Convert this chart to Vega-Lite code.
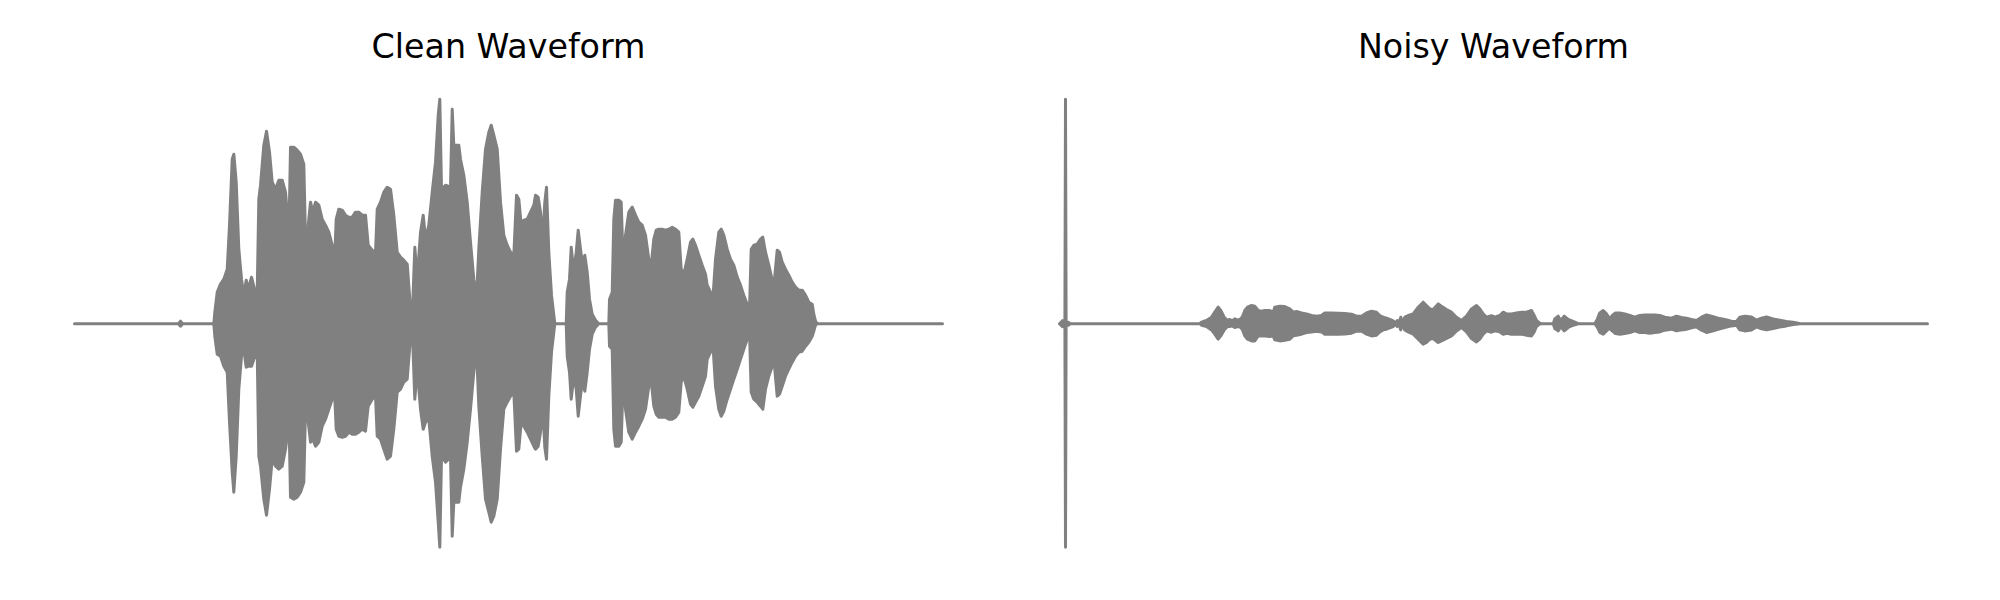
{
  "$schema": "https://vega.github.io/schema/vega-lite/v6.json",
  "padding": {"left": 72.5, "top": 30.7, "right": 0, "bottom": 0},
  "background": "white",
  "config": {
    "view": {"stroke": null},
    "title": {"fontSize": 33.3, "font": "DejaVu Sans", "fontWeight": "normal", "color": "#000000", "anchor": "middle", "baseline": "alphabetic", "offset": 18}
  },
  "datasets": {
    "clean": [
      {"t": 0, "hi": 0, "lo": 0},
      {"t": 104, "hi": 0, "lo": 0},
      {"t": 106, "hi": 2.5, "lo": -2.5},
      {"t": 108, "hi": 0, "lo": 0},
      {"t": 139.3, "hi": 0, "lo": 0},
      {"t": 140.3, "hi": 11.5, "lo": -12.5},
      {"t": 142.7, "hi": 31.5, "lo": -30.5},
      {"t": 146, "hi": 39.5, "lo": -32.5},
      {"t": 149.3, "hi": 44.5, "lo": -42.5},
      {"t": 152.7, "hi": 54.5, "lo": -48.5},
      {"t": 155, "hi": 98.5, "lo": -98.5},
      {"t": 157.7, "hi": 164.5, "lo": -148.5},
      {"t": 159.3, "hi": 169.5, "lo": -168.5},
      {"t": 161.7, "hi": 141.5, "lo": -132.5},
      {"t": 164.3, "hi": 74.5, "lo": -65.5},
      {"t": 167, "hi": 44.5, "lo": -32.5},
      {"t": 169.3, "hi": 28.5, "lo": -25.5},
      {"t": 171.7, "hi": 43.5, "lo": -43.5},
      {"t": 173.7, "hi": 34.5, "lo": -42.5},
      {"t": 177, "hi": 46.5, "lo": -42.5},
      {"t": 180.3, "hi": 33.5, "lo": -32.5},
      {"t": 182.7, "hi": 31.5, "lo": -28.5},
      {"t": 184.3, "hi": 124.5, "lo": -132.5},
      {"t": 186, "hi": 138.5, "lo": -142.5},
      {"t": 189.3, "hi": 178.5, "lo": -175.5},
      {"t": 192, "hi": 192.5, "lo": -191.5},
      {"t": 195, "hi": 171.5, "lo": -165.5},
      {"t": 197.7, "hi": 141.5, "lo": -135.5},
      {"t": 201, "hi": 134.5, "lo": -142.5},
      {"t": 204.3, "hi": 143.5, "lo": -145.5},
      {"t": 207.7, "hi": 143.5, "lo": -142.5},
      {"t": 211, "hi": 131.5, "lo": -125.5},
      {"t": 212.7, "hi": 111.5, "lo": -112.5},
      {"t": 214.3, "hi": 84.5, "lo": -85.5},
      {"t": 216, "hi": 176.5, "lo": -173.5},
      {"t": 219.3, "hi": 176.5, "lo": -175.5},
      {"t": 222.7, "hi": 173.5, "lo": -173.5},
      {"t": 226, "hi": 169.5, "lo": -168.5},
      {"t": 229.3, "hi": 159.5, "lo": -158.5},
      {"t": 231, "hi": 84.5, "lo": -85.5},
      {"t": 233.7, "hi": 98.5, "lo": -98.5},
      {"t": 236, "hi": 121.5, "lo": -118.5},
      {"t": 238.3, "hi": 111.5, "lo": -115.5},
      {"t": 241, "hi": 121.5, "lo": -122.5},
      {"t": 244.3, "hi": 118.5, "lo": -118.5},
      {"t": 247.7, "hi": 104.5, "lo": -102.5},
      {"t": 251, "hi": 98.5, "lo": -95.5},
      {"t": 254.3, "hi": 91.5, "lo": -85.5},
      {"t": 257.7, "hi": 78.5, "lo": -75.5},
      {"t": 259.3, "hi": 44.5, "lo": -52.5},
      {"t": 261.7, "hi": 104.5, "lo": -105.5},
      {"t": 264.3, "hi": 114.5, "lo": -112.5},
      {"t": 267.7, "hi": 113.5, "lo": -113.5},
      {"t": 271, "hi": 108.5, "lo": -112.5},
      {"t": 274.3, "hi": 106.5, "lo": -108.5},
      {"t": 277.7, "hi": 106.5, "lo": -110.5},
      {"t": 281, "hi": 111.5, "lo": -110.5},
      {"t": 284.3, "hi": 111.5, "lo": -108.5},
      {"t": 287.7, "hi": 108.5, "lo": -105.5},
      {"t": 291, "hi": 108.5, "lo": -107.5},
      {"t": 293.7, "hi": 78.5, "lo": -82.5},
      {"t": 297.7, "hi": 73.5, "lo": -75.5},
      {"t": 301, "hi": 71.5, "lo": -72.5},
      {"t": 302.7, "hi": 114.5, "lo": -112.5},
      {"t": 306, "hi": 121.5, "lo": -115.5},
      {"t": 309.3, "hi": 131.5, "lo": -125.5},
      {"t": 312.7, "hi": 136.5, "lo": -135.5},
      {"t": 316, "hi": 134.5, "lo": -132.5},
      {"t": 319.3, "hi": 108.5, "lo": -105.5},
      {"t": 322.7, "hi": 71.5, "lo": -68.5},
      {"t": 326, "hi": 66.5, "lo": -65.5},
      {"t": 329.3, "hi": 63.5, "lo": -58.5},
      {"t": 332.7, "hi": 59.5, "lo": -55.5},
      {"t": 335.3, "hi": 24.5, "lo": -22.5},
      {"t": 337.7, "hi": 4.5, "lo": -3.5},
      {"t": 340.3, "hi": 76.5, "lo": -75.5},
      {"t": 342.7, "hi": 44.5, "lo": -45.5},
      {"t": 346, "hi": 91.5, "lo": -85.5},
      {"t": 348.7, "hi": 108.5, "lo": -105.5},
      {"t": 351, "hi": 84.5, "lo": -98.5},
      {"t": 354.3, "hi": 98.5, "lo": -95.5},
      {"t": 357.7, "hi": 131.5, "lo": -132.5},
      {"t": 361, "hi": 161.5, "lo": -158.5},
      {"t": 363.7, "hi": 208.5, "lo": -198.5},
      {"t": 365.3, "hi": 224.5, "lo": -223.5},
      {"t": 367, "hi": 134.5, "lo": -132.5},
      {"t": 371, "hi": 138.5, "lo": -138.5},
      {"t": 376, "hi": 136.5, "lo": -133.5},
      {"t": 377.7, "hi": 214.5, "lo": -212.5},
      {"t": 379.3, "hi": 178.5, "lo": -178.5},
      {"t": 384.3, "hi": 178.5, "lo": -178.5},
      {"t": 386, "hi": 164.5, "lo": -163.5},
      {"t": 389.3, "hi": 148.5, "lo": -145.5},
      {"t": 392.7, "hi": 121.5, "lo": -118.5},
      {"t": 396, "hi": 81.5, "lo": -85.5},
      {"t": 399.3, "hi": 44.5, "lo": -48.5},
      {"t": 402, "hi": 26.5, "lo": -25.5},
      {"t": 404.3, "hi": 74.5, "lo": -82.5},
      {"t": 407.7, "hi": 131.5, "lo": -132.5},
      {"t": 411, "hi": 174.5, "lo": -175.5},
      {"t": 414.3, "hi": 191.5, "lo": -188.5},
      {"t": 416.7, "hi": 198.5, "lo": -198.5},
      {"t": 419.3, "hi": 188.5, "lo": -192.5},
      {"t": 422.7, "hi": 174.5, "lo": -175.5},
      {"t": 426, "hi": 121.5, "lo": -125.5},
      {"t": 429.3, "hi": 88.5, "lo": -85.5},
      {"t": 432.7, "hi": 78.5, "lo": -78.5},
      {"t": 436, "hi": 71.5, "lo": -72.5},
      {"t": 439.3, "hi": 68.5, "lo": -68.5},
      {"t": 442, "hi": 128.5, "lo": -127.5},
      {"t": 444.3, "hi": 124.5, "lo": -125.5},
      {"t": 446.7, "hi": 98.5, "lo": -98.5},
      {"t": 449.3, "hi": 103.5, "lo": -102.5},
      {"t": 452.7, "hi": 104.5, "lo": -108.5},
      {"t": 456, "hi": 111.5, "lo": -115.5},
      {"t": 459.3, "hi": 118.5, "lo": -122.5},
      {"t": 461, "hi": 128.5, "lo": -125.5},
      {"t": 463.7, "hi": 126.5, "lo": -122.5},
      {"t": 466, "hi": 111.5, "lo": -108.5},
      {"t": 468.3, "hi": 84.5, "lo": -85.5},
      {"t": 470.3, "hi": 121.5, "lo": -123.5},
      {"t": 472, "hi": 136.5, "lo": -135.5},
      {"t": 474.3, "hi": 71.5, "lo": -72.5},
      {"t": 477, "hi": 28.5, "lo": -28.5},
      {"t": 480.3, "hi": 0, "lo": 0},
      {"t": 491.7, "hi": 0, "lo": 0},
      {"t": 492.7, "hi": 31.5, "lo": -32.5},
      {"t": 495, "hi": 44.5, "lo": -48.5},
      {"t": 496.7, "hi": 76.5, "lo": -75.5},
      {"t": 499.3, "hi": 51.5, "lo": -52.5},
      {"t": 501.7, "hi": 71.5, "lo": -65.5},
      {"t": 503.7, "hi": 93.5, "lo": -92.5},
      {"t": 506, "hi": 74.5, "lo": -72.5},
      {"t": 507.7, "hi": 61.5, "lo": -58.5},
      {"t": 510.3, "hi": 68.5, "lo": -67.5},
      {"t": 512.7, "hi": 51.5, "lo": -48.5},
      {"t": 515, "hi": 24.5, "lo": -25.5},
      {"t": 517.7, "hi": 9.5, "lo": -10.5},
      {"t": 521, "hi": 3.5, "lo": -3.5},
      {"t": 524.3, "hi": 0, "lo": 0},
      {"t": 534.3, "hi": 0, "lo": 0},
      {"t": 535, "hi": 24.5, "lo": -22.5},
      {"t": 537.7, "hi": 31.5, "lo": -25.5},
      {"t": 539.3, "hi": 104.5, "lo": -105.5},
      {"t": 541, "hi": 123.5, "lo": -122.5},
      {"t": 544.3, "hi": 123.5, "lo": -122.5},
      {"t": 546.7, "hi": 121.5, "lo": -118.5},
      {"t": 548.7, "hi": 58.5, "lo": -52.5},
      {"t": 551, "hi": 88.5, "lo": -85.5},
      {"t": 554.3, "hi": 111.5, "lo": -108.5},
      {"t": 557.7, "hi": 116.5, "lo": -115.5},
      {"t": 561, "hi": 108.5, "lo": -108.5},
      {"t": 564.3, "hi": 101.5, "lo": -102.5},
      {"t": 567.7, "hi": 98.5, "lo": -95.5},
      {"t": 571, "hi": 88.5, "lo": -85.5},
      {"t": 574.3, "hi": 64.5, "lo": -62.5},
      {"t": 577, "hi": 61.5, "lo": -60.5},
      {"t": 579.3, "hi": 84.5, "lo": -82.5},
      {"t": 581.7, "hi": 93.5, "lo": -90.5},
      {"t": 584.3, "hi": 94.5, "lo": -93.5},
      {"t": 587.7, "hi": 94.5, "lo": -93.5},
      {"t": 591, "hi": 93.5, "lo": -93.5},
      {"t": 594.3, "hi": 94.5, "lo": -95.5},
      {"t": 597.7, "hi": 96.5, "lo": -95.5},
      {"t": 601, "hi": 94.5, "lo": -93.5},
      {"t": 604.3, "hi": 91.5, "lo": -88.5},
      {"t": 606.7, "hi": 54.5, "lo": -58.5},
      {"t": 609.3, "hi": 49.5, "lo": -52.5},
      {"t": 612.7, "hi": 64.5, "lo": -65.5},
      {"t": 616, "hi": 81.5, "lo": -80.5},
      {"t": 618.3, "hi": 84.5, "lo": -83.5},
      {"t": 621, "hi": 78.5, "lo": -78.5},
      {"t": 624.3, "hi": 68.5, "lo": -72.5},
      {"t": 627.7, "hi": 58.5, "lo": -62.5},
      {"t": 631, "hi": 49.5, "lo": -52.5},
      {"t": 632.7, "hi": 38.5, "lo": -35.5},
      {"t": 636, "hi": 31.5, "lo": -28.5},
      {"t": 638.7, "hi": 29.5, "lo": -25.5},
      {"t": 641, "hi": 64.5, "lo": -62.5},
      {"t": 644.3, "hi": 91.5, "lo": -85.5},
      {"t": 646.7, "hi": 94.5, "lo": -92.5},
      {"t": 649.3, "hi": 88.5, "lo": -87.5},
      {"t": 652.7, "hi": 74.5, "lo": -75.5},
      {"t": 656, "hi": 64.5, "lo": -65.5},
      {"t": 659.3, "hi": 58.5, "lo": -55.5},
      {"t": 662.7, "hi": 46.5, "lo": -45.5},
      {"t": 666, "hi": 38.5, "lo": -35.5},
      {"t": 669.3, "hi": 28.5, "lo": -25.5},
      {"t": 672.7, "hi": 19.5, "lo": -15.5},
      {"t": 675, "hi": 14.5, "lo": -8.5},
      {"t": 676.7, "hi": 74.5, "lo": -68.5},
      {"t": 679.3, "hi": 78.5, "lo": -75.5},
      {"t": 682.7, "hi": 79.5, "lo": -78.5},
      {"t": 686, "hi": 84.5, "lo": -82.5},
      {"t": 688.3, "hi": 86.5, "lo": -85.5},
      {"t": 691, "hi": 71.5, "lo": -65.5},
      {"t": 694.3, "hi": 58.5, "lo": -52.5},
      {"t": 697.7, "hi": 43.5, "lo": -42.5},
      {"t": 700, "hi": 44.5, "lo": -42.5},
      {"t": 702.7, "hi": 73.5, "lo": -72.5},
      {"t": 705, "hi": 71.5, "lo": -70.5},
      {"t": 707.7, "hi": 61.5, "lo": -62.5},
      {"t": 711, "hi": 54.5, "lo": -52.5},
      {"t": 714.3, "hi": 48.5, "lo": -45.5},
      {"t": 717.7, "hi": 41.5, "lo": -38.5},
      {"t": 721, "hi": 36.5, "lo": -32.5},
      {"t": 724.3, "hi": 33.5, "lo": -28.5},
      {"t": 727.7, "hi": 33.5, "lo": -27.5},
      {"t": 731, "hi": 28.5, "lo": -22.5},
      {"t": 734.3, "hi": 21.5, "lo": -18.5},
      {"t": 737.7, "hi": 19.5, "lo": -12.5},
      {"t": 739.3, "hi": 9.5, "lo": -7.5},
      {"t": 741, "hi": 2.5, "lo": -1.5},
      {"t": 742.7, "hi": 0, "lo": 0},
      {"t": 868, "hi": 0, "lo": 0}
    ],
    "noisy": [
      {"t": 0, "hi": 0, "lo": 0},
      {"t": 3, "hi": 3, "lo": -3},
      {"t": 5.4, "hi": 1, "lo": -1},
      {"t": 6, "hi": 224.5, "lo": -223.5},
      {"t": 6.6, "hi": 1, "lo": -1},
      {"t": 9, "hi": 1.5, "lo": -1.5},
      {"t": 10.5, "hi": 0, "lo": 0},
      {"t": 140.3, "hi": 0, "lo": 0},
      {"t": 142, "hi": 1.5, "lo": -1.5},
      {"t": 147, "hi": 3.2, "lo": -2.8},
      {"t": 152, "hi": 6.5, "lo": -6.2},
      {"t": 155.3, "hi": 11.5, "lo": -10.5},
      {"t": 158.7, "hi": 16.5, "lo": -15.5},
      {"t": 161.3, "hi": 13.2, "lo": -12.2},
      {"t": 164.7, "hi": 6.5, "lo": -6.2},
      {"t": 168, "hi": 3.2, "lo": -2.8},
      {"t": 170.3, "hi": 4.2, "lo": -2.8},
      {"t": 172.7, "hi": 2.8, "lo": -2.2},
      {"t": 175.3, "hi": 4.8, "lo": -3.8},
      {"t": 177.7, "hi": 3.5, "lo": -2.8},
      {"t": 180.3, "hi": 4.2, "lo": -3.2},
      {"t": 182.7, "hi": 6.5, "lo": -5.5},
      {"t": 185.3, "hi": 13.2, "lo": -12.2},
      {"t": 188, "hi": 16.5, "lo": -15.5},
      {"t": 192, "hi": 18.2, "lo": -17.2},
      {"t": 195.3, "hi": 17.5, "lo": -17.2},
      {"t": 198.7, "hi": 13.2, "lo": -12.2},
      {"t": 202, "hi": 12.5, "lo": -12.2},
      {"t": 205.3, "hi": 13.2, "lo": -12.2},
      {"t": 210.3, "hi": 13.2, "lo": -12.8},
      {"t": 213.7, "hi": 11.5, "lo": -12.2},
      {"t": 215.3, "hi": 16.5, "lo": -16.2},
      {"t": 220.3, "hi": 17.5, "lo": -17.2},
      {"t": 225.3, "hi": 17.2, "lo": -16.5},
      {"t": 230.3, "hi": 14.8, "lo": -15.5},
      {"t": 233.7, "hi": 11.5, "lo": -12.2},
      {"t": 237, "hi": 12.2, "lo": -11.5},
      {"t": 242, "hi": 10.8, "lo": -10.5},
      {"t": 247, "hi": 9.8, "lo": -8.8},
      {"t": 252, "hi": 8.2, "lo": -8.2},
      {"t": 257, "hi": 7.5, "lo": -7.5},
      {"t": 262, "hi": 8.2, "lo": -8.2},
      {"t": 265.3, "hi": 10.8, "lo": -10.5},
      {"t": 272, "hi": 10.8, "lo": -10.5},
      {"t": 278.7, "hi": 10.5, "lo": -10.5},
      {"t": 285.3, "hi": 10.2, "lo": -10.2},
      {"t": 292, "hi": 9.5, "lo": -9.5},
      {"t": 297, "hi": 7.5, "lo": -7.5},
      {"t": 302, "hi": 7.5, "lo": -7.2},
      {"t": 307, "hi": 10.8, "lo": -10.5},
      {"t": 312, "hi": 12.5, "lo": -12.2},
      {"t": 317, "hi": 11.5, "lo": -11.5},
      {"t": 320.3, "hi": 8.2, "lo": -8.2},
      {"t": 323.7, "hi": 6.5, "lo": -6.2},
      {"t": 327, "hi": 5.5, "lo": -5.5},
      {"t": 330.3, "hi": 4.2, "lo": -4.2},
      {"t": 333.7, "hi": 2.8, "lo": -2.8},
      {"t": 336, "hi": 0.8, "lo": -0.5},
      {"t": 337.7, "hi": 3.2, "lo": -2.8},
      {"t": 339.3, "hi": 0.8, "lo": -0.5},
      {"t": 341.3, "hi": 6.5, "lo": -6.2},
      {"t": 343, "hi": 0.8, "lo": -0.8},
      {"t": 345.3, "hi": 6.5, "lo": -6.2},
      {"t": 348.7, "hi": 8.2, "lo": -8.2},
      {"t": 353.7, "hi": 9.8, "lo": -10.5},
      {"t": 358.7, "hi": 16.5, "lo": -15.5},
      {"t": 363.7, "hi": 21.5, "lo": -20.5},
      {"t": 367, "hi": 18.2, "lo": -18.8},
      {"t": 370.3, "hi": 14.8, "lo": -15.5},
      {"t": 373.7, "hi": 14.2, "lo": -14.8},
      {"t": 378.7, "hi": 19.8, "lo": -18.8},
      {"t": 382, "hi": 17.5, "lo": -17.2},
      {"t": 387, "hi": 14.2, "lo": -14.8},
      {"t": 392, "hi": 11.5, "lo": -12.2},
      {"t": 397, "hi": 6.5, "lo": -7.2},
      {"t": 402, "hi": 3.2, "lo": -3.8},
      {"t": 407, "hi": 7.5, "lo": -8.2},
      {"t": 412, "hi": 14.8, "lo": -14.8},
      {"t": 417, "hi": 18.2, "lo": -18.2},
      {"t": 420.3, "hi": 14.8, "lo": -15.5},
      {"t": 423.7, "hi": 9.8, "lo": -10.5},
      {"t": 427, "hi": 6.5, "lo": -7.2},
      {"t": 432, "hi": 8, "lo": -8.5},
      {"t": 435.3, "hi": 6.5, "lo": -7.2},
      {"t": 440.3, "hi": 8.2, "lo": -8.2},
      {"t": 443.7, "hi": 11.5, "lo": -10.5},
      {"t": 447, "hi": 9.8, "lo": -9.5},
      {"t": 452, "hi": 9.8, "lo": -10.5},
      {"t": 457, "hi": 10.8, "lo": -10.5},
      {"t": 462, "hi": 11.5, "lo": -10.5},
      {"t": 467, "hi": 11.5, "lo": -11.5},
      {"t": 472, "hi": 13.2, "lo": -12.2},
      {"t": 474.7, "hi": 8.2, "lo": -8.2},
      {"t": 477, "hi": 3.2, "lo": -2.8},
      {"t": 480.3, "hi": 0.5, "lo": -0.2},
      {"t": 482, "hi": 0, "lo": 0},
      {"t": 493.7, "hi": 0, "lo": 0},
      {"t": 495.3, "hi": 4.8, "lo": -4.8},
      {"t": 498.7, "hi": 7.5, "lo": -7.2},
      {"t": 501.3, "hi": 3.2, "lo": -2.8},
      {"t": 504.7, "hi": 7.5, "lo": -7.2},
      {"t": 508.7, "hi": 4.2, "lo": -3.8},
      {"t": 513.7, "hi": 2.2, "lo": -1.5},
      {"t": 518.7, "hi": 0, "lo": 0},
      {"t": 535.3, "hi": 0, "lo": 0},
      {"t": 538, "hi": 4.8, "lo": -3.8},
      {"t": 540.3, "hi": 10.8, "lo": -8.8},
      {"t": 543.7, "hi": 13.2, "lo": -10.5},
      {"t": 547, "hi": 9.8, "lo": -7.2},
      {"t": 550.3, "hi": 4.8, "lo": -4.5},
      {"t": 552.7, "hi": 8.2, "lo": -7.2},
      {"t": 556, "hi": 10.8, "lo": -9.8},
      {"t": 560.3, "hi": 10.8, "lo": -10.5},
      {"t": 565.3, "hi": 9.8, "lo": -9.8},
      {"t": 570.3, "hi": 8.2, "lo": -8.8},
      {"t": 575.3, "hi": 6.5, "lo": -7.2},
      {"t": 580.3, "hi": 8.2, "lo": -8.8},
      {"t": 585.3, "hi": 8.8, "lo": -8.8},
      {"t": 590.3, "hi": 8.8, "lo": -9.5},
      {"t": 595.3, "hi": 8.8, "lo": -8.8},
      {"t": 600.3, "hi": 8.2, "lo": -8.2},
      {"t": 605.3, "hi": 6.5, "lo": -6.5},
      {"t": 612, "hi": 5.5, "lo": -5.5},
      {"t": 617, "hi": 7.5, "lo": -7.2},
      {"t": 622, "hi": 6.2, "lo": -6.2},
      {"t": 627, "hi": 5.5, "lo": -5.5},
      {"t": 632, "hi": 4.2, "lo": -4.2},
      {"t": 637, "hi": 3.2, "lo": -3.2},
      {"t": 642, "hi": 6.5, "lo": -6.5},
      {"t": 647, "hi": 8.8, "lo": -8.8},
      {"t": 652, "hi": 7.5, "lo": -7.5},
      {"t": 658.7, "hi": 5.5, "lo": -5.5},
      {"t": 665.3, "hi": 4.2, "lo": -3.8},
      {"t": 672, "hi": 2.5, "lo": -2.2},
      {"t": 677, "hi": 2.2, "lo": -1.5},
      {"t": 680.3, "hi": 6.5, "lo": -6.2},
      {"t": 685.3, "hi": 7.5, "lo": -7.2},
      {"t": 692, "hi": 6.8, "lo": -6.2},
      {"t": 697, "hi": 3.5, "lo": -3.2},
      {"t": 702, "hi": 5.5, "lo": -5.2},
      {"t": 707, "hi": 6.8, "lo": -6.2},
      {"t": 713.7, "hi": 4.8, "lo": -4.8},
      {"t": 720.3, "hi": 3.5, "lo": -3.2},
      {"t": 727, "hi": 2.2, "lo": -2.2},
      {"t": 733.7, "hi": 1.5, "lo": -0.8},
      {"t": 738.7, "hi": 0.5, "lo": -0.2},
      {"t": 740.3, "hi": 0, "lo": 0},
      {"t": 868, "hi": 0, "lo": 0}
    ]
  },
  "spacing": 113,
  "hconcat": [
    {
      "width": 868,
      "height": 480,
      "title": {"text": "Clean Waveform"},
      "data": {"name": "clean"},
      "mark": {"type": "area", "color": "#808080", "stroke": "#808080", "strokeWidth": 3, "strokeJoin": "round"},
      "encoding": {
        "x": {"field": "t", "type": "quantitative", "axis": null, "scale": {"domain": [0, 868], "nice": false, "zero": false}},
        "y": {"field": "hi", "type": "quantitative", "axis": null, "scale": {"domain": [-240, 240], "nice": false}},
        "y2": {"field": "lo"}
      }
    },
    {
      "width": 868,
      "height": 480,
      "title": {"text": "Noisy Waveform"},
      "data": {"name": "noisy"},
      "mark": {"type": "area", "color": "#808080", "stroke": "#808080", "strokeWidth": 3, "strokeJoin": "round"},
      "encoding": {
        "x": {"field": "t", "type": "quantitative", "axis": null, "scale": {"domain": [0, 868], "nice": false, "zero": false}},
        "y": {"field": "hi", "type": "quantitative", "axis": null, "scale": {"domain": [-240, 240], "nice": false}},
        "y2": {"field": "lo"}
      }
    }
  ]
}
